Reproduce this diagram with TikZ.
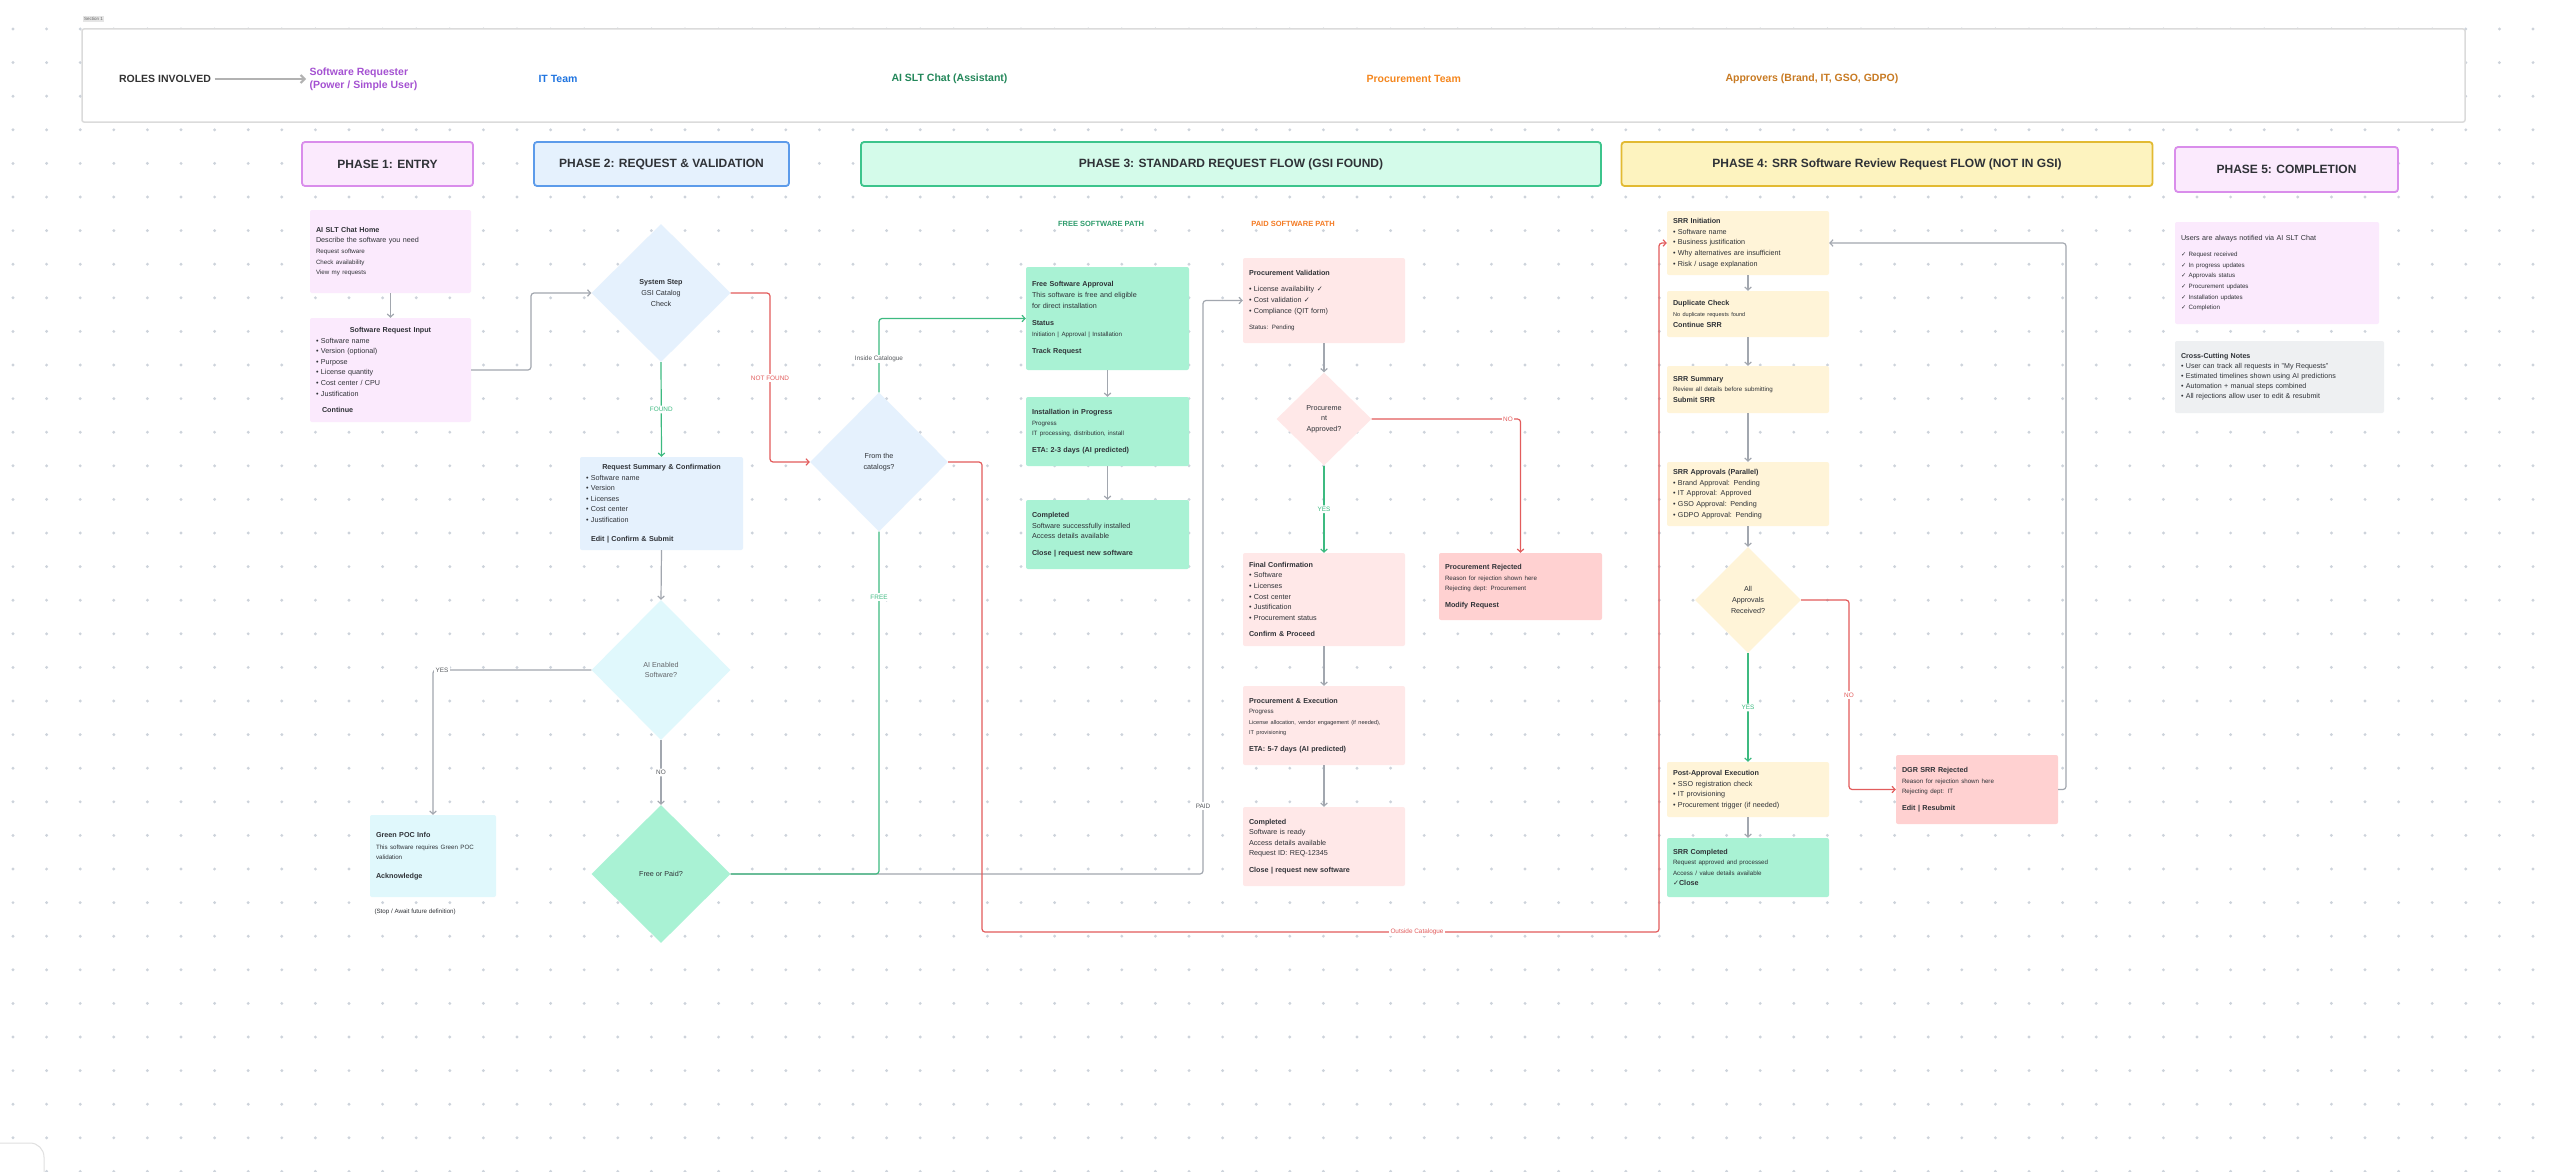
\documentclass[tikz,border=0pt]{standalone}
\usepackage{fontspec}
\setmainfont{Liberation Sans}
\newfontfamily\djv{DejaVu Sans}
\usetikzlibrary{arrows.meta,shapes.geometric}
\definecolor{txt}{HTML}{2F3237}
\definecolor{dotc}{HTML}{CDD3DB}
\definecolor{lgray}{HTML}{A2A7AF}
\definecolor{lgreen}{HTML}{3DBA80}
\definecolor{lred}{HTML}{E25C5C}
\definecolor{fpurp}{HTML}{FBEAFD}
\definecolor{dpurp}{HTML}{D98DEB}
\definecolor{fblue}{HTML}{E5F1FD}
\definecolor{dblue}{HTML}{5C9BEA}
\definecolor{fmint}{HTML}{D4FBEA}
\definecolor{dmint}{HTML}{3CC48C}
\definecolor{fyel}{HTML}{FDF3BF}
\definecolor{dyel}{HTML}{E2BA32}
\definecolor{fcyan}{HTML}{E0F8FC}
\definecolor{fgreen}{HTML}{A9F2D4}
\definecolor{fpink}{HTML}{FFE8E8}
\definecolor{fred}{HTML}{FFD1D1}
\definecolor{fcream}{HTML}{FFF4D8}
\definecolor{fgrey}{HTML}{EEF0F2}
\definecolor{cpurp}{HTML}{A552D2}
\definecolor{cblue}{HTML}{1F74E0}
\definecolor{cgreen}{HTML}{23875A}
\definecolor{corange}{HTML}{F5871F}
\definecolor{cbrown}{HTML}{C87A22}
\definecolor{cpath}{HTML}{2E9C6C}
\definecolor{cpaid}{HTML}{F47A22}
\newcommand\bodyf{\fontsize{7.2}{10.6}\selectfont}
\newcommand\smf{\fontsize{6.2}{10.6}\selectfont}
\newcommand\tinyf{\fontsize{5.6}{10.6}\selectfont}
\newcommand\lblf{\fontsize{6.4}{7}\selectfont}
\newcommand\ck{{\djv ✓}}
\begin{document}
\begin{tikzpicture}[x=1pt,y=-1pt,
  box/.style={rectangle, rounded corners=2pt, inner xsep=6pt, inner ysep=3pt, align=left, font=\bodyf, text=txt},
  dia/.style={diamond, inner sep=0pt, align=center, font=\bodyf, text=txt},
  phase/.style={rectangle, rounded corners=3pt, line width=1.8pt, font=\bfseries\fontsize{12}{14}\selectfont, text=txt, inner sep=0pt},
  con/.style={line width=1.2pt, draw=lgray, rounded corners=3pt, -{Straight Barb[length=3pt,width=6.5pt]}},
  cong/.style={con, draw=lgreen},
  conr/.style={con, draw=lred},
  lbl/.style={fill=white, inner sep=1.5pt, font=\lblf, text=txt!80},
  role/.style={font=\bfseries\fontsize{10.5}{13}\selectfont, anchor=west, align=left}]
\useasboundingbox (0,0) rectangle (2560,1172);
\clip (0,0) rectangle (2560,1172);
\fill[white] (0,0) rectangle (2560,1172);
\foreach \i in {0,...,76}{\foreach \j in {0,...,34}{\fill[dotc] ({13+33.6*\i},{29+33.6*\j}) circle[radius=1.6pt];}}

% header
\node[fill=black!10, inner sep=1pt, font=\fontsize{4.5}{5}\selectfont, text=black!60, anchor=west] (sec) at (83,19) {Section 1};
\node[draw=black!14, line width=1.5pt, fill=white, rounded corners=2pt, minimum width=2383pt, minimum height=93pt, inner sep=0pt] (frame) at (1273.5,75.5) {};
\node[role, anchor=center, text=black!80] (roles) at (165,79) {ROLES INVOLVED};
\node[role, text=cpurp] (req) at (306,79) {Software Requester\\(Power / Simple User)};
\node[role, text=cblue] (itteam) at (535,79) {IT Team};
\node[role, text=cgreen] (aichat) at (888,79) {AI SLT Chat (Assistant)};
\node[role, text=corange] (proc) at (1363,79) {Procurement Team};
\node[role, text=cbrown] (appr) at (1722,79) {Approvers (Brand, IT, GSO, GDPO)};
\draw[line width=2pt, draw=black!30, -{Straight Barb[length=4pt,width=8pt]}] (roles.east) -- (req.west);

% phase headers
\node[phase, fill=fpurp, draw=dpurp, minimum width=171pt, minimum height=44pt] (p1) at (387.5,164) {PHASE 1: ENTRY};
\node[phase, fill=fblue, draw=dblue, minimum width=255pt, minimum height=44pt] (p2) at (661.5,164) {PHASE 2: REQUEST \& VALIDATION};
\node[phase, fill=fmint, draw=dmint, minimum width=740pt, minimum height=44pt] (p3) at (1231,164) {PHASE 3: STANDARD REQUEST FLOW (GSI FOUND)};
\node[phase, fill=fyel, draw=dyel, minimum width=531pt, minimum height=44pt] (p4) at (1887,164) {PHASE 4: SRR Software Review Request FLOW (NOT IN GSI)};
\node[phase, fill=fpurp, draw=dpurp, minimum width=223pt, minimum height=45pt] (p5) at (2286.5,169.5) {PHASE 5: COMPLETION};

% phase 1
\node[box, fill=fpurp, text width=149pt, minimum height=83pt] (chat) at (390.5,251.5)
 {{\bfseries AI SLT Chat Home}\\ Describe the software you need\\ {\smf Request software}\\ {\smf Check availability}\\ {\smf View my requests}};
\node[box, fill=fpurp, text width=149pt, minimum height=104pt] (input) at (390.5,370)
 {\makebox[\hsize]{\bfseries Software Request Input}\\ • Software name\\ • Version (optional)\\ • Purpose\\ • License quantity\\ • Cost center / CPU\\ • Justification\\[6pt] \hspace*{6pt}{\bfseries Continue}};

% phase 2
\node[dia, fill=fblue, minimum width=139pt, minimum height=138pt] (sys) at (661,293) {{\bfseries System Step}\\GSI Catalog\\Check};
\node[box, fill=fblue, text width=151pt, minimum height=93pt] (summary) at (661.5,503.5)
 {\makebox[\hsize]{\bfseries Request Summary \& Confirmation}\\ • Software name\\ • Version\\ • Licenses\\ • Cost center\\ • Justification\\[8pt] \hspace*{5pt}{\bfseries Edit | Confirm \& Submit}};
\node[dia, fill=fcyan, minimum width=139pt, minimum height=140pt, text=txt!75] (ai) at (661,670) {AI Enabled\\Software?};
\node[box, fill=fcyan, text width=114pt, minimum height=82pt] (poc) at (433,856)
 {{\bfseries Green POC Info}\\[1pt] {\smf This software requires Green POC\\ validation}\\[8pt] {\bfseries Acknowledge}};
\node[anchor=west, font=\smf, text=txt] (stop) at (371,912) {(Stop / Await future definition)};
\node[dia, fill=fgreen, minimum width=139pt, minimum height=138pt] (freepaid) at (661,874) {Free or Paid?};

% phase 3
\node[font=\bfseries\fontsize{7.5}{9}\selectfont, text=cpath] (freelbl) at (1101,224) {FREE SOFTWARE PATH};
\node[font=\bfseries\fontsize{7.5}{9}\selectfont, text=cpaid] (paidlbl) at (1293,224) {PAID SOFTWARE PATH};
\node[dia, fill=fblue, minimum width=138pt, minimum height=139pt] (exec) at (879,462) {From the\\catalogs?};
\node[box, fill=fgreen, text width=151pt, minimum height=103pt] (freeapp) at (1107.5,318.5)
 {{\bfseries Free Software Approval}\\ This software is free and eligible\\ for direct installation\\[7pt] {\bfseries Status}\\ {\smf Initiation | Approval | Installation}\\[7pt] {\bfseries Track Request}};
\node[box, fill=fgreen, text width=151pt, minimum height=69pt] (install) at (1107.5,431.5)
 {{\bfseries Installation in Progress}\\ {\smf Progress}\\ {\smf IT processing, distribution, install}\\[6pt] {\bfseries ETA: 2-3 days (AI predicted)}};
\node[box, fill=fgreen, text width=151pt, minimum height=69pt] (fcomp) at (1107.5,534.5)
 {{\bfseries Completed}\\ Software successfully installed\\ Access details available\\[6pt] {\bfseries Close | request new software}};

\node[box, fill=fpink, text width=150pt, minimum height=85pt] (procval) at (1324,300.5)
 {{\bfseries Procurement Validation}\\[6pt] • License availability \ck\\ • Cost validation \ck\\ • Compliance (QIT form)\\[6pt] {\smf Status: Pending}};
\node[dia, fill=fpink, minimum width=95pt, minimum height=93pt] (procd) at (1324,419) {Procureme\\nt\\Approved?};
\node[box, fill=fpink, text width=150pt, minimum height=93pt] (finalconf) at (1324,599.5)
 {{\bfseries Final Confirmation}\\ • Software\\ • Licenses\\ • Cost center\\ • Justification\\ • Procurement status\\[6pt] {\bfseries Confirm \& Proceed}};
\node[box, fill=fpink, text width=150pt, minimum height=79pt] (procexec) at (1324,725.5)
 {{\bfseries Procurement \& Execution}\\ {\smf Progress}\\ {\tinyf License allocation, vendor engagement (if needed),}\\ {\tinyf IT provisioning}\\[6pt] {\bfseries ETA: 5-7 days (AI predicted)}};
\node[box, fill=fpink, text width=150pt, minimum height=79pt] (pcomp) at (1324,846.5)
 {{\bfseries Completed}\\ Software is ready\\ Access details available\\ Request ID: REQ-12345\\[6pt] {\bfseries Close | request new software}};
\node[box, fill=fred, text width=151pt, minimum height=67pt] (prej) at (1520.5,586.5)
 {{\bfseries Procurement Rejected}\\ {\smf Reason for rejection shown here}\\ {\smf Rejecting dept: Procurement}\\[6pt] {\bfseries Modify Request}};

% phase 4
\node[box, fill=fcream, text width=150pt, minimum height=64pt] (srrinit) at (1748,243)
 {{\bfseries SRR Initiation}\\ • Software name\\ • Business justification\\ • Why alternatives are insufficient\\ • Risk / usage explanation};
\node[box, fill=fcream, text width=150pt, minimum height=46pt] (dup) at (1748,314)
 {{\bfseries Duplicate Check}\\ {\tinyf No duplicate requests found}\\ {\bfseries Continue SRR}};
\node[box, fill=fcream, text width=150pt, minimum height=47pt] (srrsum) at (1748,389.5)
 {{\bfseries SRR Summary}\\ {\smf Review all details before submitting}\\ {\bfseries Submit SRR}};
\node[box, fill=fcream, text width=150pt, minimum height=64pt] (srrappr) at (1748,494)
 {{\bfseries SRR Approvals (Parallel)}\\ • Brand Approval: Pending\\ • IT Approval: Approved\\ • GSO Approval: Pending\\ • GDPO Approval: Pending};
\node[dia, fill=fcream, minimum width=106pt, minimum height=106pt] (alld) at (1748,600) {All\\Approvals\\Received?};
\node[box, fill=fcream, text width=150pt, minimum height=55pt] (postexec) at (1748,789.5)
 {{\bfseries Post-Approval Execution}\\ • SSO registration check\\ • IT provisioning\\ • Procurement trigger (if needed)};
\node[box, fill=fgreen, text width=150pt, minimum height=59pt] (srrcomp) at (1748,867.5)
 {{\bfseries SRR Completed}\\ {\smf Request approved and processed}\\ {\smf Access / value details available}\\ {\bfseries \ck Close}};
\node[box, fill=fred, text width=150pt, minimum height=69pt] (srrrej) at (1977,789.5)
 {{\bfseries DGR SRR Rejected}\\ {\smf Reason for rejection shown here}\\ {\smf Rejecting dept: IT}\\[6pt] {\bfseries Edit | Resubmit}};

% phase 5
\node[box, fill=fpurp, text width=192pt, minimum height=102pt] (notif) at (2277,273)
 {Users are always notified via AI SLT Chat\\[6pt] {\smf \ck\ Request received\\ \ck\ In progress updates\\ \ck\ Approvals status\\ \ck\ Procurement updates\\ \ck\ Installation updates\\ \ck\ Completion}};
\node[box, fill=fgrey, text width=197pt, minimum height=72pt, font=\fontsize{7.1}{10}\selectfont] (notes) at (2279.5,377)
 {{\bfseries Cross-Cutting Notes}\\ • User can track all requests in "My Requests"\\ • Estimated timelines shown using AI predictions\\ • Automation + manual steps combined\\ • All rejections allow user to edit \& resubmit};

% connectors phase 1-2
\draw[con] (chat.south) -- (input.north);
\draw[con] (input.east) -- (531,370) -- (531,293) -- (sys.west);
\draw[cong] (sys.south) -- node[lbl, text=lgreen] (lfound) {FOUND} (summary.north);
\draw[conr] (sys.east) -- (770,293) -- (770,462) -- (exec.west);
\node[lbl, text=lred] (lnotfound) at (770,378) {NOT FOUND};
\draw[con] (summary.south) -- (ai.north);
\draw[con] (ai.west) -| (poc.north);
\node[lbl] (lyes1) at (442,670) {YES};
\draw[con] (ai.south) -- node[lbl] (lno1) {NO} (freepaid.north);

% phase 3 connectors
\draw[con] (freepaid.east) -- (1203,874) |- (procval.west);
\draw[cong, -] (freepaid.east) -| (exec.south);
\node[lbl, text=lgreen] (lfree) at (879,597) {FREE};
\node[lbl] (lpaid) at (1203,806) {PAID};
\draw[cong] (exec.north) |- (freeapp.west);
\node[lbl] (linside) at (879,359) {Inside Catalogue};
\draw[conr] (exec.east) -- (982,462) -- (982,932) -- (1659,932) |- (srrinit.west);
\node[lbl, text=lred] (loutside) at (1417,932) {Outside Catalogue};
\draw[con] (freeapp.south) -- (install.north);
\draw[con] (install.south) -- (fcomp.north);
\draw[con] (procval.south) -- (procd.north);
\draw[cong] (procd.south) -- node[lbl, text=lgreen] (lyes2) {YES} (finalconf.north);
\draw[conr] (procd.east) -| (prej.north);
\node[lbl, text=lred] (lno2) at (1508,419) {NO};
\draw[con] (finalconf.south) -- (procexec.north);
\draw[con] (procexec.south) -- (pcomp.north);

% phase 4 connectors
\draw[con] (srrinit.south) -- (dup.north);
\draw[con] (dup.south) -- (srrsum.north);
\draw[con] (srrsum.south) -- (srrappr.north);
\draw[con] (srrappr.south) -- (alld.north);
\draw[cong] (alld.south) -- node[lbl, text=lgreen] (lyes3) {YES} (postexec.north);
\draw[conr] (alld.east) -- (1849,600) |- (srrrej.west);
\node[lbl, text=lred] (lno3) at (1849,695) {NO};
\draw[con] (postexec.south) -- (srrcomp.north);
\draw[con] (srrrej.east) -- (2066,789.5) |- (srrinit.east);

% bottom-left widget
\draw[black!12, fill=white, line width=1pt, rounded corners=14pt] (-40,1143) rectangle (44,1220);
\end{tikzpicture}
\end{document}
